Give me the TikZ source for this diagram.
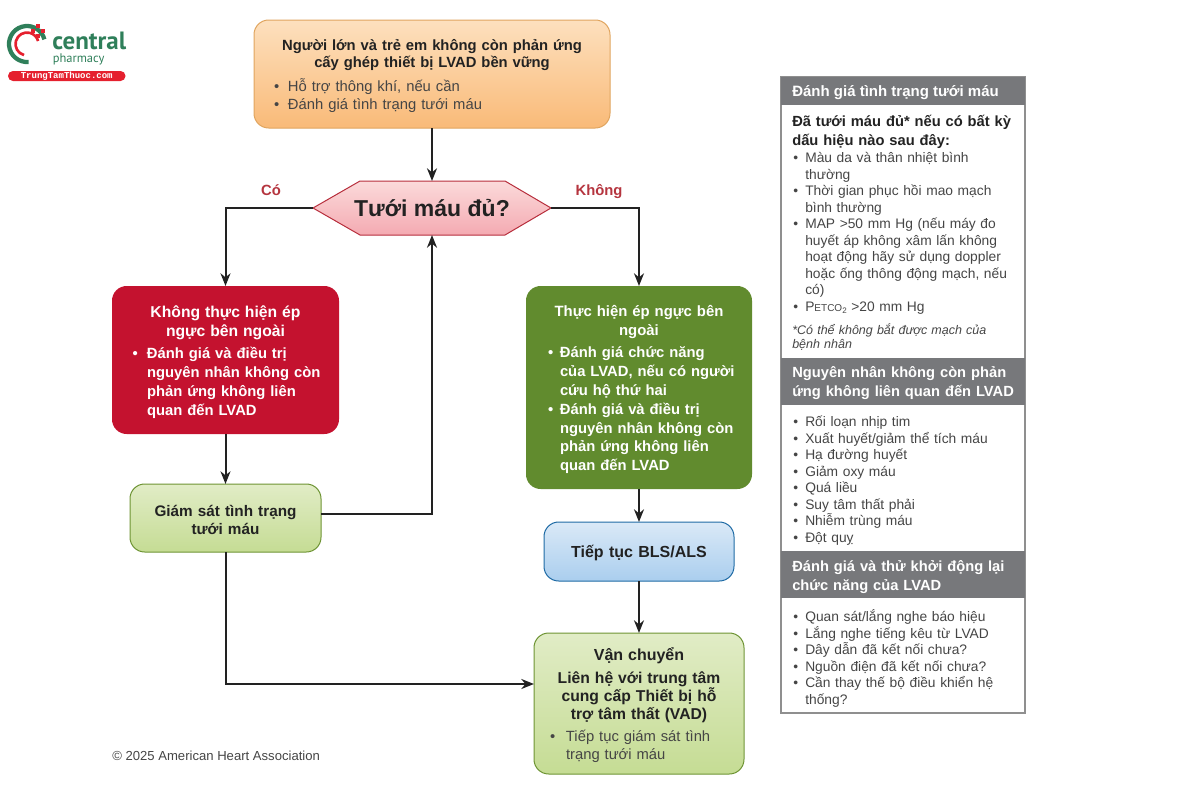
\documentclass[tikz,border=0pt]{standalone}
\usepackage{fontspec}
\setmainfont{Liberation Sans}
\newfontfamily\logofont{PT Sans}
\newfontfamily\pillfont{Liberation Mono}
\usetikzlibrary{arrows.meta}
\newcommand{\fsz}[2]{\fontsize{\dimexpr#1pt*3/4\relax}{\dimexpr#2pt*3/4\relax}\selectfont}
\newcommand{\hd}[1]{{\centering\bfseries #1\par}}
\newcommand{\bitem}[3]{\par\noindent\hangindent=\dimexpr#2pt*3/4\relax\hangafter=1\relax\raggedright\makebox[\dimexpr#2pt*3/4\relax][l]{\hspace*{\dimexpr#1pt*3/4\relax}•}#3\par}
\definecolor{ink}{HTML}{222222}
\definecolor{soft}{HTML}{454545}
\definecolor{panelgray}{HTML}{77787B}
\definecolor{pborder}{HTML}{8F8F8F}
\definecolor{lblred}{HTML}{B5353F}
\definecolor{logogreen}{HTML}{2F7F5A}
\definecolor{logored}{HTML}{E5202E}
\tikzset{
  x=0.75pt,y=-0.75pt,
  bx/.style n args={4}{at={({(#1+#3)/2},{(#2+#4)/2})},minimum width={(#3-#1)*0.75pt},minimum height={(#4-#2)*0.75pt}},
  flow/.style={rounded corners=11pt,inner sep=0pt,outer sep=0pt,line width=0.75pt,text=ink},
  orangebox/.style={flow,draw={rgb,255:red,224;green,165;blue,95},top color={rgb,255:red,253;green,224;blue,190},middle color={rgb,255:red,252;green,216;blue,172},bottom color={rgb,255:red,249;green,186;blue,120}},
  redbox/.style={flow,fill={rgb,255:red,196;green,18;blue,47},text=white},
  darkbox/.style={flow,fill={rgb,255:red,97;green,139;blue,46},text=white},
  lightbox/.style={flow,draw={rgb,255:red,110;green,148;blue,52},top color={rgb,255:red,225;green,236;blue,198},bottom color={rgb,255:red,197;green,220;blue,148}},
  bluebox/.style={flow,draw={rgb,255:red,31;green,107;blue,165},top color={rgb,255:red,218;green,233;blue,247},bottom color={rgb,255:red,170;green,206;blue,238}},
  arrow/.style={draw=ink,line width=1.5pt,-{Stealth[length=9.5pt,width=7.5pt,inset=3pt]}},
  lbl/.style={anchor=base,text=lblred,font=\bfseries\fsz{14.8}{17}},
  phead/.style={fill=panelgray,text=white,inner sep=0pt,outer sep=0pt},
  ptext/.style={anchor=north west,inner sep=0pt,text width=228*0.75pt,text=soft,font=\fsz{13.8}{16.5}},
}
\begin{document}
\begin{tikzpicture}
\useasboundingbox (0,0) rectangle (1200,800);
% logo
\draw[logogreen,line width=3.2pt] (27,44)+(85:18) arc[start angle=85,end angle=345,radius=18];
\draw[logored,line width=2pt] (27,44)+(105:11.5) arc[start angle=105,end angle=345,radius=11.5];
\foreach \cx/\cy in {38/26,33/31,43/31,38/36}{\fill[logored] (\cx-2.3,\cy-2.3) rectangle (\cx+2.3,\cy+2.3);}
\node[anchor=base west,inner sep=0pt,text=logogreen] (logoa) at (52,49.5) {\logofont\bfseries\fsz{25}{25}central};
\node[anchor=base west,inner sep=0pt,text=logogreen] (logob) at (52.5,62.5) {\logofont\fsz{12.5}{13}pharmacy};
\node[bx={8}{71}{125.5}{81},fill=logored,rounded corners=3.7pt,inner sep=0pt,text=white] (logoc) {\pillfont\bfseries\fsz{9}{9}TrungTamThuoc.com};
% flow boxes
\node[orangebox,bx={254}{20}{610}{128},text width=330*0.75pt,font=\fsz{14.8}{18.5}] (start) {\hd{\fsz{14.8}{17.6}Người lớn và trẻ em không còn phản ứng\\cấy ghép thiết bị LVAD bền vững}\vspace{3.5pt}\color{soft}\bitem{7}{21}{Hỗ trợ thông khí, nếu cần}\bitem{7}{21}{Đánh giá tình trạng tưới máu}\vspace{-3pt}};
\path[draw={rgb,255:red,183;green,46;blue,60},line width=0.75pt,top color={rgb,255:red,251;green,218;blue,218},bottom color={rgb,255:red,244;green,170;blue,178}] (313,208) -- (360,181) -- (505,181) -- (551,208) -- (505,235) -- (360,235) -- cycle;
\node[bx={313}{181}{551}{235},inner sep=0pt,outer sep=0pt,text=ink,font=\bfseries\fsz{23}{26}] (q) {Tưới máu đủ?};
\node[lbl] (yes) at (271,195) {Có};
\node[lbl] (no) at (599,195) {Không};
\node[redbox,bx={112}{286}{339}{434},text width=200*0.75pt,font=\bfseries\fsz{14.8}{18.8}] (red) {\hd{\fsz{15.7}{18.8}Không thực hiện ép\\ngực bên ngoài}\vspace{3pt}\bitem{7}{21.5}{Đánh giá và điều trị\newline nguyên nhân không còn\newline phản ứng không liên\newline quan đến LVAD}\vspace{-3pt}};
\node[lightbox,bx={130}{484}{321}{552},text width=180*0.75pt,font=\bfseries\fsz{15.3}{18.5}] (mon) {\hd{Giám sát tình trạng\\tưới máu}\vspace{-3pt}};
\node[darkbox,bx={526}{286}{752}{489},text width=200*0.75pt,font=\bfseries\fsz{14.8}{18.8}] (dark) {\hd{\fsz{14.9}{18.8}Thực hiện ép ngực bên\\ngoài}\vspace{3pt}\bitem{9}{21}{Đánh giá chức năng\newline của LVAD, nếu có người\newline cứu hộ thứ hai}\bitem{9}{21}{Đánh giá và điều trị\newline nguyên nhân không còn\newline phản ứng không liên\newline quan đến LVAD}\vspace{-3pt}};
\node[bluebox,bx={544}{522}{734}{581},text width=180*0.75pt,font=\fsz{16}{18}] (bls) {\hd{Tiếp tục BLS/ALS}\vspace{-3pt}};
\node[lightbox,bx={534}{633}{744}{774},text width=200*0.75pt,font=\fsz{14.8}{18.2}] (tr) {\hd{\fsz{16}{18}Vận chuyển}\vspace{3pt}\hd{\fsz{15.7}{18.2}Liên hệ với trung tâm\\cung cấp Thiết bị hỗ\\trợ tâm thất (VAD)}\vspace{3pt}\color{soft}\bitem{11}{27}{Tiếp tục giám sát tình\newline trạng tưới máu}\vspace{-3pt}};
\node[anchor=base west,inner sep=0pt,text=soft,font=\fsz{13.1}{15}] (copy) at (112,760.5) {© 2025 American Heart Association};
\coordinate (monout) at (321,514);
\coordinate (trin) at (534,684);
% connectors
\draw[arrow] (start.south) -- (q.north);
\draw[arrow] (q.west) -| (red.north);
\draw[arrow] (q.east) -| (dark.north);
\draw[arrow] (red.south) -- (mon.north);
\draw[arrow] (monout) -| (q.south);
\draw[arrow] (mon.south) |- (trin);
\draw[arrow] (dark.south) -- (bls.north);
\draw[arrow] (bls.south) -- (tr.north);
% panel
\node[bx={781}{77}{1025}{713},draw=pborder,line width=1.1pt,inner sep=0pt] (panel) {};
\node[phead,bx={781}{77}{1025}{105}] (h1) {};
\node[phead,bx={781}{358}{1025}{405}] (h2) {};
\node[phead,bx={781}{551}{1025}{598}] (h3) {};
\node[anchor=west,inner sep=0pt,text=white,font=\bfseries\fsz{15}{19}] (h1t) at (792,93) {Đánh giá tình trạng tưới máu};
\node[anchor=west,inner sep=0pt,text=white,text width=230*0.75pt,font=\bfseries\fsz{14.7}{19}] (h2t) at (792,383) {Nguyên nhân không còn phản\\ứng không liên quan đến LVAD};
\node[anchor=west,inner sep=0pt,text=white,text width=230*0.75pt,font=\bfseries\fsz{14.7}{19}] (h3t) at (792,577) {Đánh giá và thử khởi động lại\\chức năng của LVAD};
\node[ptext,text=ink,font=\bfseries\fsz{14.7}{19}] (b1a) at (792,115) {Đã tưới máu đủ* nếu có bất kỳ\\dấu hiệu nào sau đây:};
\node[ptext] (b1b) at (792,146) {\bitem{1}{13}{Màu da và thân nhiệt bình\newline thường}\bitem{1}{13}{Thời gian phục hồi mao mạch\newline bình thường}\bitem{1}{13}{MAP >50 mm Hg (nếu máy đo\newline huyết áp không xâm lấn không\newline hoạt động hãy sử dụng doppler\newline hoặc ống thông động mạch, nếu\newline có)}\bitem{1}{13}{P{\fontsize{7.5pt}{9pt}\selectfont ETCO}\raisebox{-2pt}{\fontsize{6pt}{7pt}\selectfont 2} >20 mm Hg}};
\node[ptext,font=\itshape\fsz{12.5}{14.3}] (b1c) at (792,323) {*Có thể không bắt được mạch của\\bệnh nhân};
\node[ptext] (b2) at (792,410) {\bitem{1}{13}{Rối loạn nhịp tim}\bitem{1}{13}{Xuất huyết/giảm thể tích máu}\bitem{1}{13}{Hạ đường huyết}\bitem{1}{13}{Giảm oxy máu}\bitem{1}{13}{Quá liều}\bitem{1}{13}{Suy tâm thất phải}\bitem{1}{13}{Nhiễm trùng máu}\bitem{1}{13}{Đột quỵ}};
\node[ptext] (b3) at (792,605) {\bitem{1}{13}{Quan sát/lắng nghe báo hiệu}\bitem{1}{13}{Lắng nghe tiếng kêu từ LVAD}\bitem{1}{13}{Dây dẫn đã kết nối chưa?}\bitem{1}{13}{Nguồn điện đã kết nối chưa?}\bitem{1}{13}{Cần thay thế bộ điều khiển hệ\newline thống?}};
\end{tikzpicture}
\end{document}
